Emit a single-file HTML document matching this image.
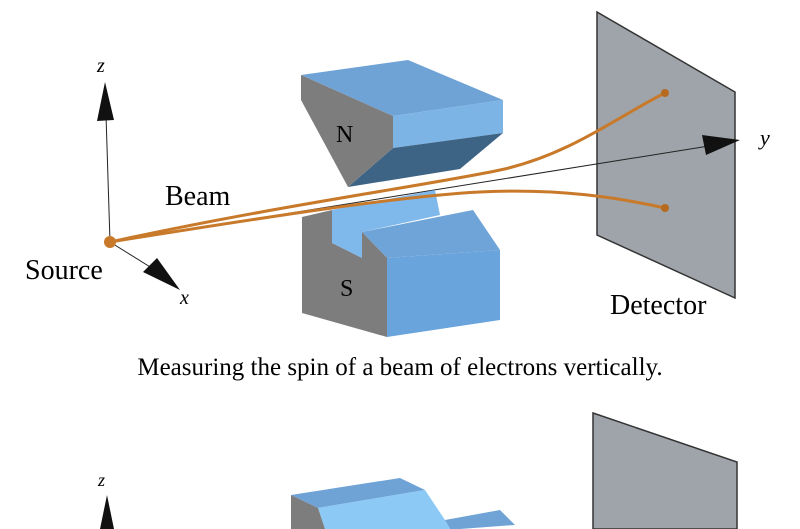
<!DOCTYPE html>
<html><head><style>body{margin:0;background:#fff}svg{display:block}</style></head><body>
<svg width="800" height="529" xmlns="http://www.w3.org/2000/svg" font-family="Liberation Serif, serif">
<polygon points="597,12 735,92 735,298 597,235" fill="#9ea4aa" stroke="#333" stroke-width="1.5"/>
<line x1="110" y1="242" x2="106" y2="115" stroke="#222" stroke-width="1"/>
<polygon points="105,82 97,121 114,120" fill="#111"/>
<line x1="110" y1="242" x2="155" y2="270" stroke="#222" stroke-width="1"/>
<polygon points="180,290 143,272 157,258" fill="#111"/>
<line x1="110" y1="242" x2="715" y2="145" stroke="#222" stroke-width="1"/>
<polygon points="740,140 702,135 706,155" fill="#111"/>
<polygon points="301,75 408,60 503,100 393,116" fill="#6fa3d6"/>
<polygon points="393,116 503,100 503,133 393,148" fill="#7cb4e6"/>
<polygon points="393,148 503,133 460,169 348,187" fill="#3e6485"/>
<polygon points="301,75 393,116 393,148 348,187 301,100" fill="#7d7d7d"/>
<text x="336" y="142" font-size="24">N</text>
<polygon points="332,210 435,190 440,215 362,232 362,258 332,243" fill="#7fb8ea"/>
<polygon points="362,232 473,210 500,250 387,258" fill="#6ea4d8"/>
<polygon points="387,258 500,250 500,320 387,337" fill="#6aa4dd"/>
<polygon points="302,217 332,210 332,243 362,258 362,232 387,258 387,337 302,313" fill="#7d7d7d"/>
<text x="340" y="296" font-size="24">S</text>
<path d="M110,242 C280,205 430,185 500,170 S620,115 665,93" fill="none" stroke="#c87a2a" stroke-width="3"/>
<path d="M110,242 C260,218 400,196 480,192 S620,198 665,208" fill="none" stroke="#c87a2a" stroke-width="3"/>
<circle cx="110" cy="242" r="6" fill="#c87a2a"/>
<circle cx="665" cy="93" r="4" fill="#b56a20"/>
<circle cx="665" cy="208" r="4" fill="#b56a20"/>
<text x="97" y="72" font-size="20" font-style="italic">z</text>
<text x="760" y="145" font-size="22" font-style="italic">y</text>
<text x="180" y="304" font-size="20" font-style="italic">x</text>
<text x="165" y="205" font-size="28">Beam</text>
<text x="25" y="279" font-size="28">Source</text>
<text x="610" y="314" font-size="28">Detector</text>
<text x="400" y="375" font-size="25" text-anchor="middle">Measuring the spin of a beam of electrons vertically.</text>
<polygon points="593,413 737,462 737,529 593,529" fill="#9ea4aa" stroke="#333" stroke-width="1.5"/>
<text x="98" y="486" font-size="18" font-style="italic">z</text>
<polygon points="107,495 100,529 114,529" fill="#111"/>
<polygon points="291,495 400,478 425,490 318,508" fill="#6fa3d6"/>
<polygon points="318,508 425,490 445,520 450,529 325,529" fill="#8ccaf5"/>
<polygon points="291,495 318,508 325,529 291,529" fill="#7d7d7d"/>
<polygon points="445,520 500,510 515,525 460,529 450,529" fill="#6fa3d6"/>
</svg>
</body></html>
